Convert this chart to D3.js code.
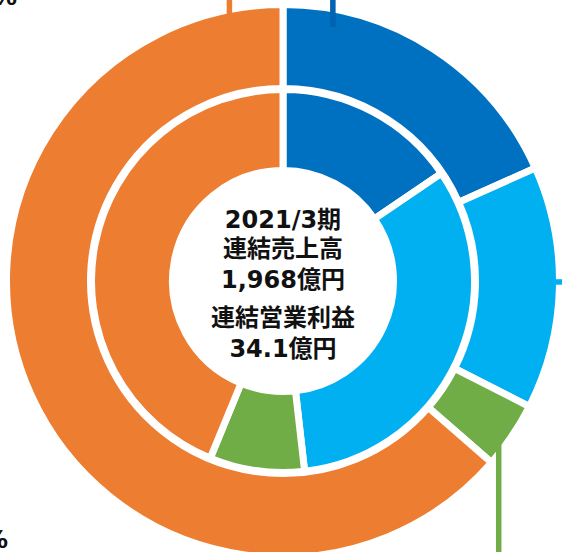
<!DOCTYPE html>
<html>
<head>
<meta charset="utf-8">
<script src="https://cdn.jsdelivr.net/npm/d3@7"></script>
<style>
  body { margin: 0; background: #fff; }
  svg { display: block; }
</style>
</head>
<body>
<script>
// segment shares (labels sit outside the frame)
var segments = ["seg1", "seg2", "seg3", "seg4"];
var outerShare = [18.3, 14.2, 3.9, 63.6];
var innerShare = [15.5, 32.7, 8.0, 43.8];
var colors = ["#0070C0", "#00B0F0", "#70AD47", "#ED7D31"];
var leaderColors = ["#0062B0", "#00B0F0", "#70AD47", "#ED7D31"];

// centre text
var centerLines = ["2021/3期", "連結売上高", "1,968億円", "連結営業利益", "34.1億円"];
// the two labels that peek in at the left edge
var edgeLabels = ["63.6%", "43.8%"];

var width = 562, height = 552;
var cx = 283, cy = 281;
var border = 7;

var svg = d3.select("body")
    .append("svg")
    .attr("width", width)
    .attr("height", height);

var g = svg.append("g")
    .attr("transform", "translate(" + cx + "," + cy + ")");

var pie = d3.pie().sort(null).value(d => d);

// radii include half the white border, so the visible faces land where the picture has them
var outerArc = d3.arc().innerRadius(196 - border / 2).outerRadius(273 + border / 2);
var innerArc = d3.arc().innerRadius(114 - border / 2).outerRadius(188 + border / 2);

g.append("g")
    .selectAll("path")
    .data(pie(outerShare))
    .enter().append("path")
    .attr("d", outerArc)
    .attr("fill", (d, i) => colors[i])
    .attr("stroke", "#fff")
    .attr("stroke-width", border);

g.append("g")
    .selectAll("path")
    .data(pie(innerShare))
    .enter().append("path")
    .attr("d", innerArc)
    .attr("fill", (d, i) => colors[i])
    .attr("stroke", "#fff")
    .attr("stroke-width", border);

// leader lines of the outer ring: anchor (angle in degrees, radius) and the way they run out of frame
var leaders = [
    { seg: 0, angle: 11.1, r: 259, dir: "up" },
    { seg: 1, angle: 90.2, r: 270, dir: "right" },
    { seg: 2, angle: 126.4, r: 268, dir: "down" },
    { seg: 3, angle: -11.4, r: 271, dir: "up" }
];

g.append("g")
    .selectAll("line")
    .data(leaders)
    .enter().append("line")
    .each(function (d) {
        var p = d3.pointRadial(d.angle * Math.PI / 180, d.r);
        var end = p.slice();
        if (d.dir == "up") end[1] = -cy - 10;
        if (d.dir == "down") end[1] = height - cy + 10;
        if (d.dir == "right") end[0] = width - cx + 10;
        d3.select(this)
            .attr("x1", p[0]).attr("y1", p[1])
            .attr("x2", end[0]).attr("y2", end[1]);
    })
    .attr("stroke", d => leaderColors[d.seg])
    .attr("stroke-width", 5.5);

// centre text
var lineY = [228, 257, 288, 326, 357];
svg.append("g")
    .selectAll("text")
    .data(centerLines)
    .enter().append("text")
    .attr("x", cx)
    .attr("y", (d, i) => lineY[i])
    .attr("text-anchor", "middle")
    .attr("font-family", "'DejaVu Sans', 'Noto Sans CJK JP', sans-serif")
    .attr("font-weight", "bold")
    .attr("font-size", "24px")
    .attr("fill", "#111")
    .text(d => d);

// cut-off labels at the left edge
var edgePos = [[17, 5], [8, 548]];
svg.append("g")
    .selectAll("text")
    .data(edgeLabels)
    .enter().append("text")
    .attr("x", (d, i) => edgePos[i][0])
    .attr("y", (d, i) => edgePos[i][1])
    .attr("text-anchor", "end")
    .attr("font-family", "'DejaVu Sans', 'Noto Sans CJK JP', sans-serif")
    .attr("font-weight", "bold")
    .attr("font-size", "24px")
    .attr("fill", "#111")
    .text(d => d);
</script>
</body>
</html>
